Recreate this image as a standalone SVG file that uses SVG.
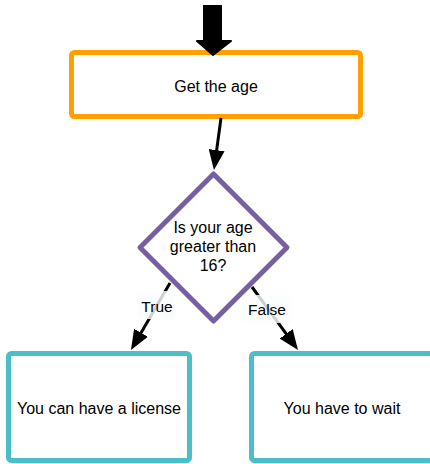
<svg xmlns="http://www.w3.org/2000/svg" width="430" height="464" viewBox="0 0 430 464">
<defs>
<style>
.node-text{font-family:"Liberation Sans",Arial,sans-serif;font-size:16px;fill:#000;text-anchor:middle}
.lbl{font-family:"Liberation Sans",Arial,sans-serif;font-size:15.5px;fill:#000;text-anchor:middle}
.box{fill:#fff;stroke-width:5}
.conn{stroke:#000;stroke-width:3;fill:none}
.lblbg{fill:#fbfefe;opacity:0.82}
</style>
<marker id="arrow" viewBox="0 0 20 16" refX="10" refY="8" markerWidth="20" markerHeight="16" markerUnits="userSpaceOnUse" orient="auto">
<path d="M0,0 L20,8 L0,16 z" fill="#000"/>
</marker>
</defs>
<rect width="430" height="464" fill="#fff"/>
<g id="get-age">
<rect class="box" x="71.5" y="52.5" width="289" height="64" rx="3" stroke="#ffa000"/>
<text class="node-text" x="216" y="92">Get the age</text>
</g>
<g id="decision">
<polygon class="box" points="213.5,174 287,247.5 213.5,321 140,247.5" stroke="#7660a1" stroke-width="5.5" stroke-linejoin="round"/>
<text class="node-text" x="213" y="233">Is your age</text>
<text class="node-text" x="213" y="252">greater than</text>
<text class="node-text" x="213" y="271">16?</text>
</g>
<g id="license">
<rect class="box" x="8.5" y="353.5" width="181" height="107" rx="3" stroke="#4cbec8"/>
<text class="node-text" x="99" y="414">You can have a license</text>
</g>
<g id="wait">
<rect class="box" x="251.5" y="353.5" width="181" height="107" rx="3" stroke="#4cbec8"/>
<text class="node-text" x="342" y="414">You have to wait</text>
</g>
<g id="connectors">
<rect x="203" y="5" width="19" height="37" fill="#000"/>
<polygon points="197,41 231,41 213,55" fill="#000" stroke="#000" stroke-width="2" stroke-linejoin="round"/>
<line class="conn" x1="221" y1="118" x2="215.3" y2="160.1" marker-end="url(#arrow)"/>
<line class="conn" x1="170" y1="283" x2="136" y2="341.4" marker-end="url(#arrow)"/>
<line class="conn" x1="252" y1="287" x2="292.1" y2="341.9" marker-end="url(#arrow)"/>
<rect class="lblbg" x="137" y="291" width="38" height="28" rx="2"/>
<text class="lbl" x="157" y="312">True</text>
<rect class="lblbg" x="242" y="295" width="51" height="28" rx="2"/>
<text class="lbl" x="267" y="315">False</text>
</g>
</svg>
